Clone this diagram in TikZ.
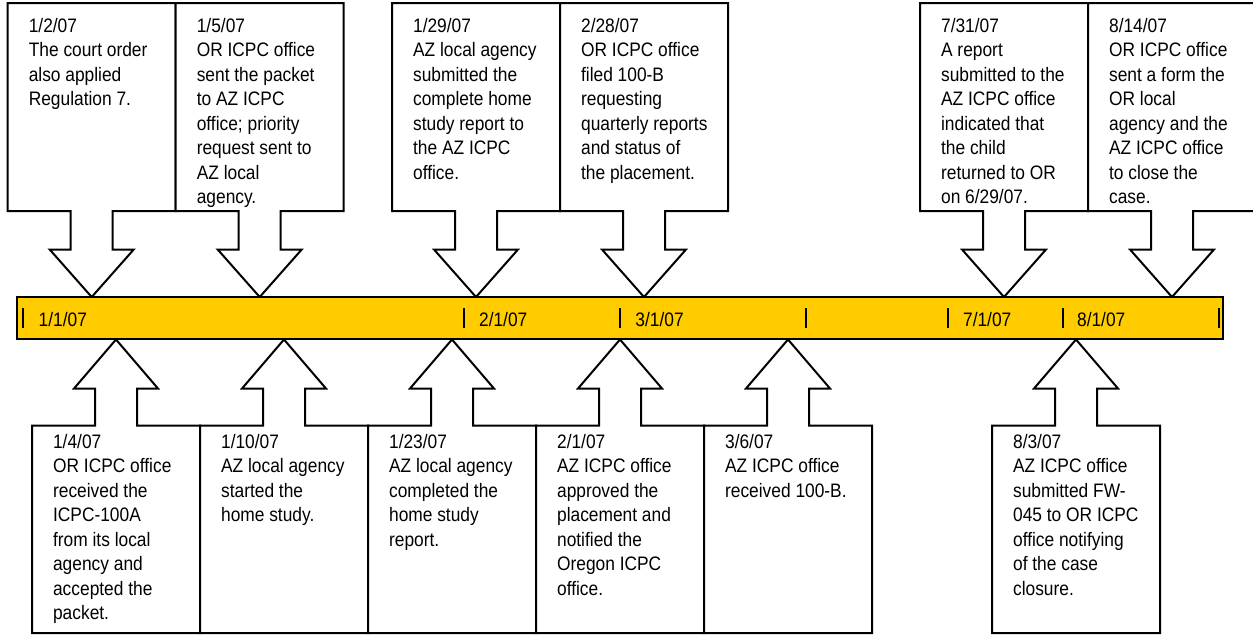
\documentclass[tikz,border=0pt]{standalone}
\usepackage{fontspec}
\setmainfont{Liberation Sans}[FakeStretch=0.89]
\definecolor{bargold}{HTML}{FFCC00}

\tikzset{
  callout/.style={draw=black,fill=white,line width=1pt,line join=miter},
  note/.style={anchor=base west,inner sep=0pt,font=\fontsize{9.75}{12.25}\selectfont},
  tick/.style={line width=1pt,black},
}

% callout above the bar: #1 centre x, #2 name, #3 text
\newcommand{\downcall}[3]{%
  \draw[callout] (#1-84,3) -- (#1+84,3) -- (#1+84,211) -- (#1+21,211) -- (#1+21,249.5)
    -- (#1+42,249.5) -- (#1,297) -- (#1-42,249.5) -- (#1-21,249.5) -- (#1-21,211)
    -- (#1-84,211) -- cycle;
  \node[note] (#2) at (#1-63.3,32.4) {\begin{tabular}[t]{@{}l@{}}#3\end{tabular}};
}
% callout below the bar
\newcommand{\upcall}[3]{%
  \draw[callout] (#1-84,633) -- (#1-84,425.5) -- (#1-21,425.5) -- (#1-21,388.5)
    -- (#1-42,388.5) -- (#1,339.5) -- (#1+42,388.5) -- (#1+21,388.5) -- (#1+21,425.5)
    -- (#1+84,425.5) -- (#1+84,633) -- cycle;
  \node[note] (#2) at (#1-63.3,448.3) {\begin{tabular}[t]{@{}l@{}}#3\end{tabular}};
}

\begin{document}
\begin{tikzpicture}[x=0.5pt,y=-0.5pt]
\useasboundingbox (0,0) rectangle (1253,634);

% Events above the timeline
\downcall{91.7}{jan2}{1/2/07\\The court order\\also applied\\Regulation 7.}
\downcall{259.7}{jan5}{1/5/07\\OR ICPC office\\sent the packet\\to AZ ICPC\\office; priority\\request sent to\\AZ local\\agency.}
\downcall{476}{jan29}{1/29/07\\AZ local agency\\submitted the\\complete home\\study report to\\the AZ ICPC\\office.}
\downcall{644}{feb28}{2/28/07\\OR ICPC office\\filed 100-B\\requesting\\quarterly reports\\and status of\\the placement.}
\downcall{1004}{jul31}{7/31/07\\A report\\submitted to the\\AZ ICPC office\\indicated that\\the child\\returned to OR\\on 6/29/07.}
\downcall{1172}{aug14}{8/14/07\\OR ICPC office\\sent a form the\\OR local\\agency and the\\AZ ICPC office\\to close the\\case.}

% Events below the timeline
\upcall{116}{jan4}{1/4/07\\OR ICPC office\\received the\\ICPC-100A\\from its local\\agency and\\accepted the\\packet.}
\upcall{284}{jan10}{1/10/07\\AZ local agency\\started the\\home study.}
\upcall{452}{jan23}{1/23/07\\AZ local agency\\completed the\\home study\\report.}
\upcall{620}{feb1}{2/1/07\\AZ ICPC office\\approved the\\placement and\\notified the\\Oregon ICPC\\office.}
\upcall{788}{mar6}{3/6/07\\AZ ICPC office\\received 100-B.}
\upcall{1076}{aug3}{8/3/07\\AZ ICPC office\\submitted FW-\\045 to OR ICPC\\office notifying\\of the case\\closure.}

% Timeline bar
\draw[line width=1pt,fill=bargold] (17,297) rectangle (1222.5,339);
\foreach \x in {22.7,464,620,806,947.7,1063,1219} {
  \draw[tick] (\x,308.3) -- (\x,328.3);
}

% Month labels
\node[note] (m1) at (38.3,326.7) {1/1/07};
\node[note] (m2) at (478.7,326.7) {2/1/07};
\node[note] (m3) at (635,326.7) {3/1/07};
\node[note] (m7) at (962.7,326.7) {7/1/07};
\node[note] (m8) at (1076.7,326.7) {8/1/07};
\end{tikzpicture}
\end{document}
